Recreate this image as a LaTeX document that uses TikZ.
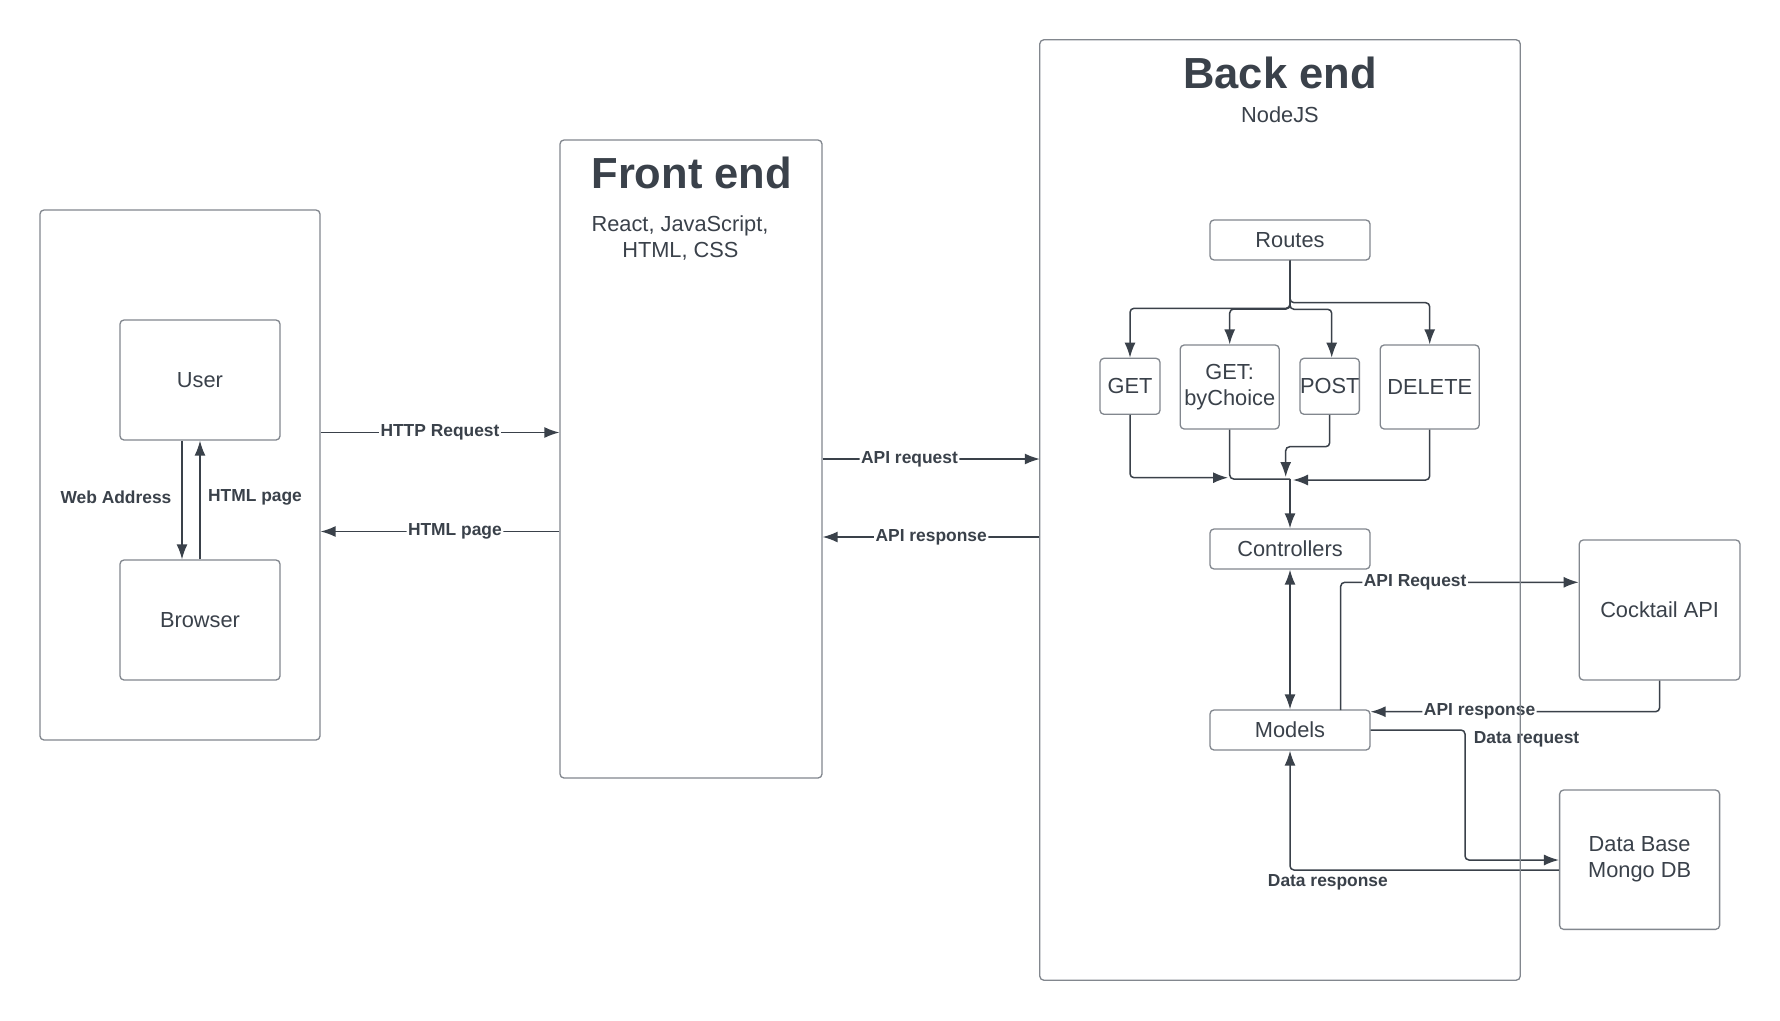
\documentclass[tikz,border=0pt]{standalone}
\usepackage{fontspec}
\setmainfont{Liberation Sans}
\usetikzlibrary{arrows.meta}
\definecolor{ink}{HTML}{3A414A}
\definecolor{edge}{HTML}{82878E}
\begin{document}
\begin{tikzpicture}[x=1pt,y=-1pt,
  box/.style={draw=edge, line width=1.3pt, rounded corners=4pt, inner sep=0pt, text=ink, align=center, font=\fontsize{21.8}{26}\selectfont},
  conn/.style={draw=ink, line width=1.5pt, rounded corners=4pt, -{Latex[length=15pt,width=11pt]}},
  conn2/.style={draw=ink, line width=1.5pt, {Latex[length=15pt,width=11pt]}-{Latex[length=15pt,width=11pt]}},
  plainline/.style={draw=ink, line width=1.5pt, rounded corners=4pt},
  lbl/.style={fill=white, inner sep=1.5pt, text=ink, font=\bfseries\fontsize{17.4}{20}\selectfont},
  tag/.style={inner sep=0pt, text=ink, font=\bfseries\fontsize{17.4}{20}\selectfont},
  title/.style={anchor=base, inner sep=0pt, text=ink, font=\bfseries\fontsize{43.5}{50}\selectfont},
  sub/.style={anchor=base, inner sep=0pt, text=ink, font=\fontsize{21.8}{26}\selectfont},
  ]
\useasboundingbox (0,0) rectangle (1780,1020);
\fill[white] (0,0) rectangle (1780,1020);

% client side
\node[box, minimum width=280pt, minimum height=530pt] (client) at (180,475) {};
\node[box, minimum width=160pt, minimum height=120pt] (user) at (200,380) {User};
\node[box, minimum width=160pt, minimum height=120pt] (browser) at (200,620) {Browser};
\draw[conn] ([xshift=-18pt]user.south) -- ([xshift=-18pt]browser.north);
\draw[conn] (browser.north) -- (user.south);
\node[tag] (wa) at (116,497) {Web Address};
\node[tag] (hp) at (255,497) {HTML page};

% front end
\node[box, minimum width=262pt, minimum height=638pt] (front) at (691,459) {};
\node[title] (fetitle) at (691.7,188.4) {Front end};
\node[sub] (fesub1) at (680,231.7) {React, JavaScript,};
\node[sub] (fesub2) at (680.4,257.7) {HTML, CSS};

% back end (outline drawn last)
\node[minimum width=480pt, minimum height=940pt, inner sep=0pt] (back) at (1280,510) {};
\node[title] (betitle) at (1280,88.3) {Back end};
\node[sub] (besub) at (1280,122.7) {NodeJS};

\draw[conn] (client.east |- 0,432.5) -- node[lbl]{HTTP Request} (front.west |- 0,432.5);
\draw[conn] (front.west |- 0,531.5) -- node[lbl,pos=0.4375]{HTML page} (client.east |- 0,531.5);
\draw[conn] (front.east |- 0,459) -- node[lbl,pos=0.4]{API request} (back.west |- 0,459);
\draw[conn] (back.west |- 0,537) -- node[lbl,pos=0.5]{API response} (front.east |- 0,537);

% routes
\node[box, minimum width=160pt, minimum height=40pt] (routes) at (1290,240) {Routes};
\node[box, minimum width=60pt, minimum height=56pt] (get) at (1130,386.3) {GET};
\node[box, minimum width=99pt, minimum height=84pt] (getb) at (1229.7,387) {GET:\\byChoice};
\node[box, minimum width=59pt, minimum height=56pt] (post) at (1329.7,386.3) {POST};
\node[box, minimum width=99pt, minimum height=84pt] (del) at (1429.7,387) {DELETE};
\node[box, minimum width=160pt, minimum height=40pt] (controllers) at (1290,549) {Controllers};
\node[box, minimum width=160pt, minimum height=40pt] (models) at (1290,730) {Models};
\node[box, minimum width=160.7pt, minimum height=140pt] (cocktail) at (1659.6,610) {Cocktail API};
\node[box, minimum width=160pt, minimum height=139.3pt] (db) at (1639.6,859.7) {Data Base\\Mongo DB};

\draw[conn] (routes.south) -- (1290,308.3) -| (get.north);
\draw[conn] (routes.south) -- (1290,309) -| (getb.north);
\draw[conn] (routes.south) -- (1290,309.3) -| ([xshift=2pt]post.north);
\draw[conn] (routes.south) -- (1290,302.7) -| (del.north);

\coordinate (m) at (1290,479);
\coordinate (mg) at (1228,477.7);
\coordinate (mp) at (1285.7,477);
\coordinate (md) at (1293,480);
\draw[conn] (get.south) |- (mg);
\draw[plainline] (getb.south) |- (m);
\draw[conn] (post.south) -- (1329.7,446.7) -| (mp);
\draw[conn] (del.south) |- (md);
\draw[conn] (m) -- (controllers.north);

\draw[conn2] (controllers.south) -- (models.north);

\coordinate (arq) at (1340.7,582.3);
\draw[conn] (1340.7,710) -- (arq) -- node[lbl,pos=0.313]{API Request} (cocktail.west |- arq);
\coordinate (ars) at (1659.6,711.7);
\draw[conn] (cocktail.south) -- (ars) -- node[lbl,pos=0.623]{API response} (models.east |- ars);
\draw[conn] (models.east) -- (1465,730) -- (1465,860) -- (db.west |- 0,860);
\node[tag] (dreq) at (1526.6,739.3) {Data request};
\draw[conn] (db.west |- 0,870) -| (models.south);
\node[tag] (dres) at (1327.9,882.3) {Data response};

\draw[draw=edge, line width=1.3pt, rounded corners=4pt] (back.south west) rectangle (back.north east);
\end{tikzpicture}
\end{document}
